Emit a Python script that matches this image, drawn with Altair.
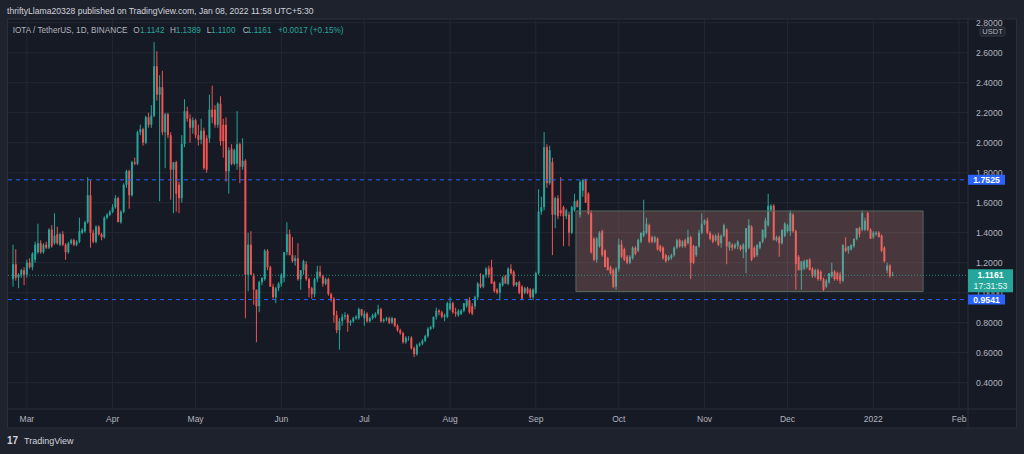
import altair as alt
import pandas as pd

# ---------------- data ----------------
# daily candles (open, high, low, close), first day 2021-02-24
seg_feb_apr = [
    (1.09, 1.32, 1.04, 1.19), (1.19, 1.29, 1.08, 1.10), (1.10, 1.13, 1.03, 1.12), (1.12, 1.16, 1.10, 1.15),
    (1.15, 1.17, 1.05, 1.12), (1.12, 1.22, 1.10, 1.20), (1.20, 1.23, 1.16, 1.17), (1.17, 1.27, 1.15, 1.26),
    (1.22, 1.34, 1.20, 1.32), (1.27, 1.46, 1.26, 1.33), (1.33, 1.35, 1.26, 1.27), (1.27, 1.33, 1.26, 1.32),
    (1.32, 1.34, 1.29, 1.30), (1.30, 1.43, 1.29, 1.42), (1.42, 1.45, 1.30, 1.31), (1.33, 1.53, 1.32, 1.38),
    (1.39, 1.44, 1.32, 1.33), (1.32, 1.40, 1.31, 1.39), (1.39, 1.41, 1.31, 1.32), (1.32, 1.33, 1.22, 1.27),
    (1.27, 1.34, 1.26, 1.33), (1.33, 1.36, 1.32, 1.35), (1.35, 1.36, 1.31, 1.32), (1.32, 1.35, 1.31, 1.34),
    (1.34, 1.50, 1.33, 1.41), (1.40, 1.43, 1.39, 1.42), (1.41, 1.48, 1.40, 1.47), (1.47, 1.77, 1.46, 1.65),
    (1.65, 1.75, 1.30, 1.40), (1.40, 1.42, 1.33, 1.34), (1.34, 1.45, 1.33, 1.44), (1.44, 1.45, 1.38, 1.39),
    (1.39, 1.40, 1.35, 1.37), (1.37, 1.51, 1.36, 1.50), (1.50, 1.53, 1.49, 1.52), (1.52, 1.55, 1.51, 1.54),
    (1.54, 1.59, 1.53, 1.57), (1.57, 1.65, 1.56, 1.63), (1.63, 1.64, 1.47, 1.47), (1.47, 1.55, 1.46, 1.54),
    (1.54, 1.73, 1.53, 1.72), (1.72, 1.82, 1.70, 1.81), (1.81, 1.82, 1.56, 1.65), (1.65, 1.88, 1.64, 1.87),
    (1.87, 1.90, 1.85, 1.86), (1.86, 2.08, 1.85, 2.07), (2.07, 2.12, 2.05, 2.09), (2.09, 2.10, 1.98, 2.00),
    (2.00, 2.18, 1.99, 2.17), (2.17, 2.20, 2.10, 2.12), (2.12, 2.25, 2.10, 2.18), (2.18, 2.67, 2.17, 2.51),
]
seg_apr_jun = [
    (2.51, 2.61, 2.28, 2.32), (2.32, 2.45, 1.61, 2.37), (2.37, 2.48, 2.05, 2.07), (2.07, 2.20, 1.83, 2.19),
    (2.19, 2.20, 2.03, 2.05), (2.05, 2.07, 1.62, 1.82), (1.82, 1.87, 1.53, 1.87), (1.87, 1.88, 1.54, 1.66),
    (1.72, 1.74, 1.53, 1.63), (1.63, 2.05, 1.60, 1.99), (1.99, 2.29, 1.97, 2.21), (2.21, 2.24, 2.14, 2.16),
    (2.16, 2.19, 2.00, 2.10), (2.10, 2.17, 2.06, 2.15), (2.15, 2.16, 2.03, 2.05), (2.05, 2.12, 1.98, 2.02),
    (2.02, 2.16, 1.99, 2.08), (2.08, 2.10, 1.82, 1.83), (2.03, 2.05, 1.80, 1.82), (2.03, 2.32, 2.00, 2.22),
    (2.22, 2.38, 2.13, 2.17), (2.22, 2.25, 2.10, 2.12), (2.12, 2.27, 2.10, 2.26), (2.26, 2.31, 1.98, 2.01),
    (2.12, 2.16, 1.90, 2.01), (2.12, 2.17, 1.74, 1.81), (1.81, 1.97, 1.66, 1.95), (1.96, 1.99, 1.85, 1.86),
    (1.86, 1.96, 1.85, 1.95), (1.86, 2.21, 1.82, 1.99), (1.99, 2.00, 1.73, 1.84), (1.84, 2.03, 1.82, 1.88),
    (1.88, 1.89, 0.83, 1.12), (1.12, 1.40, 1.01, 1.32), (1.32, 1.41, 1.12, 1.12), (1.11, 1.13, 0.92, 1.02),
    (1.02, 1.02, 0.67, 0.91), (0.91, 1.08, 0.87, 1.07), (1.07, 1.10, 1.05, 1.10), (1.09, 1.29, 1.08, 1.28),
    (1.28, 1.29, 1.15, 1.17), (1.17, 1.18, 1.04, 1.04), (1.04, 1.06, 0.96, 0.97), (0.97, 1.04, 0.93, 1.03),
    (1.03, 1.07, 1.01, 1.06), (1.06, 1.13, 1.04, 1.12), (1.10, 1.27, 1.07, 1.27), (1.27, 1.47, 1.25, 1.39),
    (1.39, 1.42, 1.25, 1.25), (1.25, 1.37, 1.20, 1.21), (1.21, 1.25, 1.18, 1.23), (1.23, 1.33, 1.08, 1.09),
    (1.09, 1.15, 1.02, 1.15),
]
seg_jun_jul = [
    (1.15, 1.22, 1.12, 1.21), (1.19, 1.21, 1.08, 1.09), (1.09, 1.10, 0.97, 1.03), (1.03, 1.04, 0.96, 0.99),
    (0.99, 1.10, 0.97, 1.09), (1.09, 1.18, 1.07, 1.14), (1.14, 1.18, 1.10, 1.11), (1.11, 1.12, 1.04, 1.06),
    (1.06, 1.10, 1.05, 1.09), (1.09, 1.10, 0.98, 0.99), (0.99, 1.00, 0.94, 0.96), (0.96, 0.97, 0.80, 0.85),
    (0.85, 0.88, 0.73, 0.75), (0.75, 0.83, 0.62, 0.81), (0.81, 0.86, 0.78, 0.84), (0.84, 0.87, 0.82, 0.85),
    (0.85, 0.86, 0.74, 0.80), (0.80, 0.82, 0.78, 0.81), (0.81, 0.84, 0.80, 0.83), (0.83, 0.85, 0.82, 0.84),
    (0.83, 0.90, 0.82, 0.89), (0.89, 0.89, 0.84, 0.85), (0.83, 0.88, 0.78, 0.86), (0.86, 0.87, 0.80, 0.81),
    (0.81, 0.84, 0.80, 0.83), (0.83, 0.86, 0.82, 0.85), (0.84, 0.87, 0.83, 0.86), (0.86, 0.92, 0.85, 0.89),
    (0.89, 0.90, 0.80, 0.81), (0.81, 0.83, 0.80, 0.82), (0.82, 0.84, 0.81, 0.83), (0.83, 0.84, 0.79, 0.80),
    (0.80, 0.84, 0.79, 0.83), (0.83, 0.83, 0.77, 0.78), (0.78, 0.79, 0.74, 0.75), (0.75, 0.76, 0.72, 0.73),
    (0.73, 0.74, 0.66, 0.67), (0.67, 0.71, 0.66, 0.70), (0.70, 0.71, 0.68, 0.70), (0.70, 0.71, 0.62, 0.63),
    (0.63, 0.64, 0.57, 0.59), (0.59, 0.66, 0.58, 0.65), (0.65, 0.67, 0.64, 0.66), (0.66, 0.69, 0.65, 0.68),
    (0.68, 0.72, 0.67, 0.71), (0.71, 0.77, 0.70, 0.76), (0.76, 0.78, 0.75, 0.77), (0.77, 0.84, 0.76, 0.84),
    (0.84, 0.90, 0.82, 0.88), (0.88, 0.89, 0.85, 0.87), (0.87, 0.88, 0.83, 0.84), (0.84, 0.86, 0.81, 0.85),
]
seg_jul_sep = [
    (0.84, 0.94, 0.83, 0.93), (0.89, 0.97, 0.88, 0.93), (0.93, 0.94, 0.86, 0.87), (0.87, 0.90, 0.84, 0.86),
    (0.85, 0.89, 0.84, 0.88), (0.86, 0.89, 0.85, 0.88), (0.88, 0.93, 0.87, 0.93), (0.91, 0.96, 0.90, 0.95),
    (0.95, 0.97, 0.86, 0.87), (0.91, 0.93, 0.85, 0.86), (0.91, 0.98, 0.89, 0.97), (0.97, 1.07, 0.95, 1.06),
    (1.06, 1.13, 1.03, 1.04), (1.04, 1.12, 1.03, 1.12), (1.12, 1.17, 1.10, 1.16), (1.16, 1.18, 1.10, 1.12),
    (1.17, 1.22, 1.06, 1.06), (1.07, 1.08, 1.00, 1.01), (1.02, 1.03, 0.99, 1.00), (1.00, 1.07, 0.95, 1.06),
    (1.05, 1.11, 1.04, 1.10), (1.11, 1.12, 1.06, 1.06), (1.06, 1.17, 1.05, 1.16), (1.16, 1.19, 1.12, 1.13),
    (1.14, 1.15, 1.04, 1.05), (1.05, 1.07, 1.04, 1.07), (1.07, 1.08, 0.99, 1.00), (1.04, 1.05, 0.95, 0.96),
    (1.00, 1.04, 0.99, 1.03), (1.03, 1.04, 0.99, 1.00), (1.02, 1.03, 0.96, 0.97), (0.97, 1.03, 0.95, 1.02),
    (1.00, 1.14, 0.99, 1.13), (1.13, 1.69, 1.12, 1.54), (1.54, 1.64, 1.52, 1.57), (1.57, 2.07, 1.55, 1.97),
    (1.97, 1.99, 1.70, 1.73), (1.73, 1.98, 1.72, 1.95), (1.87, 1.90, 1.25, 1.52), (1.52, 1.64, 1.43, 1.63),
    (1.63, 1.65, 1.49, 1.51), (1.55, 1.77, 1.51, 1.53), (1.57, 1.58, 1.31, 1.51), (1.51, 1.56, 1.49, 1.55),
    (1.52, 1.54, 1.31, 1.40), (1.40, 1.58, 1.39, 1.57), (1.55, 1.66, 1.54, 1.61), (1.61, 1.62, 1.57, 1.57),
    (1.52, 1.75, 1.50, 1.74), (1.68, 1.76, 1.64, 1.75), (1.75, 1.76, 1.60, 1.60), (1.66, 1.67, 1.52, 1.53),
    (1.53, 1.55, 1.26, 1.27),
]
seg_sep_nov = [
    (1.36, 1.37, 1.21, 1.22), (1.22, 1.37, 1.20, 1.36), (1.31, 1.41, 1.30, 1.40), (1.41, 1.42, 1.24, 1.25),
    (1.28, 1.29, 1.17, 1.17), (1.23, 1.24, 1.15, 1.15), (1.17, 1.18, 1.12, 1.13), (1.15, 1.16, 1.03, 1.04),
    (1.04, 1.17, 1.02, 1.16), (1.16, 1.36, 1.14, 1.32), (1.32, 1.35, 1.23, 1.24), (1.29, 1.30, 1.21, 1.22),
    (1.24, 1.25, 1.19, 1.20), (1.20, 1.25, 1.19, 1.24), (1.23, 1.31, 1.22, 1.30), (1.30, 1.31, 1.25, 1.26),
    (1.28, 1.36, 1.27, 1.35), (1.34, 1.40, 1.33, 1.40), (1.38, 1.62, 1.37, 1.41), (1.40, 1.50, 1.39, 1.46),
    (1.45, 1.46, 1.33, 1.34), (1.37, 1.38, 1.33, 1.34), (1.34, 1.38, 1.33, 1.37), (1.36, 1.37, 1.28, 1.29),
    (1.31, 1.32, 1.27, 1.28), (1.30, 1.31, 1.22, 1.23), (1.25, 1.26, 1.20, 1.21), (1.22, 1.25, 1.21, 1.24),
    (1.23, 1.26, 1.22, 1.25), (1.25, 1.31, 1.24, 1.30), (1.30, 1.36, 1.29, 1.35), (1.35, 1.36, 1.30, 1.31),
    (1.31, 1.35, 1.30, 1.34), (1.35, 1.36, 1.30, 1.31), (1.33, 1.42, 1.32, 1.37), (1.37, 1.38, 1.09, 1.20),
    (1.31, 1.32, 1.19, 1.20), (1.25, 1.31, 1.24, 1.31), (1.31, 1.42, 1.30, 1.40), (1.40, 1.53, 1.39, 1.46),
    (1.46, 1.49, 1.45, 1.48), (1.48, 1.50, 1.39, 1.40), (1.40, 1.41, 1.35, 1.36), (1.38, 1.39, 1.33, 1.34),
    (1.35, 1.39, 1.34, 1.38), (1.38, 1.40, 1.31, 1.32), (1.33, 1.39, 1.30, 1.38), (1.38, 1.46, 1.37, 1.45),
    (1.42, 1.43, 1.19, 1.31), (1.30, 1.34, 1.28, 1.34), (1.32, 1.33, 1.28, 1.30), (1.30, 1.33, 1.29, 1.32),
    (1.31, 1.35, 1.29, 1.34),
]
seg_nov_jan = [
    (1.31, 1.32, 1.28, 1.29), (1.29, 1.33, 1.23, 1.32), (1.27, 1.43, 1.13, 1.43), (1.30, 1.49, 1.29, 1.45),
    (1.44, 1.45, 1.21, 1.22), (1.30, 1.31, 1.23, 1.24), (1.25, 1.32, 1.24, 1.32), (1.30, 1.34, 1.29, 1.34),
    (1.34, 1.42, 1.33, 1.42), (1.37, 1.50, 1.36, 1.48), (1.45, 1.66, 1.44, 1.58), (1.55, 1.59, 1.54, 1.58),
    (1.58, 1.59, 1.35, 1.35), (1.35, 1.38, 1.34, 1.37), (1.37, 1.38, 1.24, 1.33), (1.33, 1.42, 1.32, 1.42),
    (1.38, 1.47, 1.37, 1.46), (1.41, 1.46, 1.40, 1.45), (1.41, 1.55, 1.38, 1.53), (1.52, 1.53, 1.40, 1.41),
    (1.41, 1.42, 1.02, 1.19), (1.24, 1.25, 1.15, 1.15), (1.15, 1.21, 1.02, 1.21), (1.16, 1.22, 1.15, 1.21),
    (1.17, 1.22, 1.16, 1.22), (1.22, 1.23, 1.15, 1.15), (1.16, 1.17, 1.10, 1.11), (1.11, 1.16, 1.10, 1.15),
    (1.15, 1.16, 1.08, 1.09), (1.14, 1.15, 1.08, 1.09), (1.09, 1.10, 1.01, 1.02), (1.04, 1.09, 1.03, 1.08),
    (1.07, 1.13, 1.06, 1.13), (1.11, 1.20, 1.10, 1.14), (1.14, 1.15, 1.08, 1.09), (1.13, 1.14, 1.08, 1.09),
    (1.12, 1.14, 1.06, 1.08), (1.08, 1.32, 1.07, 1.32), (1.30, 1.37, 1.27, 1.28), (1.28, 1.31, 1.26, 1.31),
    (1.29, 1.32, 1.28, 1.32), (1.31, 1.36, 1.30, 1.36), (1.36, 1.43, 1.35, 1.43), (1.43, 1.44, 1.37, 1.39),
    (1.42, 1.55, 1.41, 1.53), (1.42, 1.50, 1.41, 1.48), (1.53, 1.54, 1.41, 1.42), (1.42, 1.43, 1.36, 1.36),
    (1.37, 1.41, 1.36, 1.40), (1.39, 1.41, 1.38, 1.40), (1.40, 1.41, 1.37, 1.37), (1.38, 1.39, 1.27, 1.28),
    (1.30, 1.31, 1.20, 1.21), (1.15, 1.20, 1.13, 1.18), (1.18, 1.19, 1.10, 1.11), (1.1142, 1.1389, 1.11, 1.1161),
]
first_day = "2021-02-24"

hline_prices = [1.7525, 0.9541]
last_price = 1.1161
last_timer = "17:31:53"
range_box = {"t1": "2021-09-15T12:00", "t2": "2022-01-19T00:00", "p1": 1.545, "p2": 1.008}

y_ticks = [0.4, 0.6, 0.8, 1.0, 1.2, 1.4, 1.6, 1.8, 2.0, 2.2, 2.4, 2.6, 2.8]
month_days = ["2021-03-01", "2021-04-01", "2021-05-01", "2021-06-01", "2021-07-01", "2021-08-01",
              "2021-09-01", "2021-10-01", "2021-11-01", "2021-12-01", "2022-01-01", "2022-02-01"]
month_labels = ["Mar", "Apr", "May", "Jun", "Jul", "Aug", "Sep", "Oct", "Nov", "Dec", "2022", "Feb"]

header_text = "thriftyLlama20328 published on TradingView.com, Jan 08, 2022 11:58 UTC+5:30"
legend_parts = [("IOTA / TetherUS, 1D, BINANCE", "gray", 4.7), ("O", "gray", 125.3), ("1.1142", "up", 132),
                ("H", "gray", 162), ("1.1389", "up", 167.7), ("L", "gray", 198.7), ("1.1100", "up", 203),
                ("C", "gray", 234.7), ("1.1161", "up", 239), ("+0.0017 (+0.15%)", "up", 270)]

# ---------------- style ----------------
FONT = "Liberation Sans"
FRAME = "#1e222d"
CHART_BG = "#161a25"
GRID = "#232733"
BORDER = "#2a2e39"
TEXT = "#b2b5be"
HEAD = "#d1d4dc"
UP = "#26a69a"
DOWN = "#ef5350"
BLUE = "#2962ff"
W, H = 960, 390


def ms(s):
    return int(pd.Timestamp(s, tz="UTC").value // 10**6)


candles = seg_feb_apr + seg_apr_jun + seg_jun_jul + seg_jul_sep + seg_sep_nov + seg_nov_jan
df = pd.DataFrame(candles, columns=["open", "high", "low", "close"])
t0 = pd.Timestamp(first_day, tz="UTC")
df["t"] = [int((t0 + pd.Timedelta(days=i)).value // 10**6) for i in range(len(df))]
df["dir"] = ["up" if c >= o else "down" for o, c in zip(df["open"], df["close"])]

mar1 = pd.Timestamp("2021-03-01", tz="UTC")
x_dom = [int((mar1 - pd.Timedelta(days=5.01)).value // 10**6),
         int((mar1 + pd.Timedelta(days=338.43)).value // 10**6)]
xs = alt.Scale(type="utc", domain=x_dom)
ys = alt.Scale(domain=[0.2247, 2.8247], nice=False, zero=False)

one = pd.DataFrame({"a": [0]})
months_df = pd.DataFrame({"t": [ms(d) for d in month_days], "label": month_labels})
ticks_df = pd.DataFrame({"v": y_ticks})

layers = []
# chart background
layers.append(alt.Chart(one).mark_rect(fill=CHART_BG).encode(
    x=alt.value(0), x2=alt.value(1008), y=alt.value(0), y2=alt.value(409)))
# grid
layers.append(alt.Chart(ticks_df).mark_rule(color=GRID, strokeWidth=1).encode(
    y=alt.Y("v:Q", scale=ys, axis=None), x=alt.value(0), x2=alt.value(W)))
layers.append(alt.Chart(months_df).mark_rule(color=GRID, strokeWidth=1).encode(
    x=alt.X("t:T", scale=xs, axis=None), y=alt.value(0), y2=alt.value(H)))

# candles
color = alt.Color("dir:N", scale=alt.Scale(domain=["up", "down"], range=[UP, DOWN]), legend=None)
base = alt.Chart(df)
layers.append(base.mark_rule(strokeWidth=1).encode(
    x=alt.X("t:T", scale=xs, axis=None),
    y=alt.Y("low:Q", scale=ys, axis=None), y2="high:Q", color=color))
layers.append(base.mark_bar(size=2).encode(
    x=alt.X("t:T", scale=xs, axis=None),
    y=alt.Y("open:Q", scale=ys, axis=None), y2="close:Q", color=color))

# range box
box_df = pd.DataFrame({"t1": [ms(range_box["t1"])], "t2": [ms(range_box["t2"])],
                       "p1": [range_box["p1"]], "p2": [range_box["p2"]]})
layers.append(alt.Chart(box_df).mark_rect(fill="#de9289", fillOpacity=0.25, stroke="#56675a",
                                          strokeWidth=1).encode(
    x=alt.X("t1:T", scale=xs, axis=None), x2="t2:T",
    y=alt.Y("p1:Q", scale=ys, axis=None), y2="p2:Q"))

# horizontal lines
hl_df = pd.DataFrame({"p": hline_prices})
layers.append(alt.Chart(hl_df).mark_rule(color=BLUE, strokeDash=[4, 4], strokeWidth=1).encode(
    y=alt.Y("p:Q", scale=ys, axis=None), x=alt.value(0), x2=alt.value(W)))
last_df = pd.DataFrame({"p": [last_price], "timer": [last_timer]})
layers.append(alt.Chart(last_df).mark_rule(color=UP, strokeDash=[1, 2], strokeWidth=1, opacity=0.8).encode(
    y=alt.Y("p:Q", scale=ys, axis=None), x=alt.value(0), x2=alt.value(W)))

# month labels
layers.append(alt.Chart(months_df).mark_text(color=TEXT, fontSize=8.5, font=FONT, align="center",
                                             baseline="middle").encode(
    x=alt.X("t:T", scale=xs, axis=None), y=alt.value(400), text="label:N"))

# right price-axis panel
layers.append(alt.Chart(one).mark_rect(fill=CHART_BG).encode(
    x=alt.value(W), x2=alt.value(1008), y=alt.value(0), y2=alt.value(409)))
layers.append(alt.Chart(one).mark_rule(color=BORDER, strokeWidth=1).encode(
    x=alt.value(W), y=alt.value(0), y2=alt.value(409)))
layers.append(alt.Chart(one).mark_rule(color=BORDER, strokeWidth=1).encode(
    y=alt.value(H), x=alt.value(0), x2=alt.value(1008)))

# price labels
layers.append(alt.Chart(ticks_df).mark_text(color=TEXT, fontSize=8.7, font=FONT, align="left",
                                            baseline="middle").encode(
    y=alt.Y("v:Q", scale=ys, axis=None), x=alt.value(W + 8), text=alt.Text("v:Q", format=".4f")))

# price tags
layers.append(alt.Chart(hl_df).mark_tick(color=BLUE, thickness=10, size=37, opacity=1).encode(
    y=alt.Y("p:Q", scale=ys, axis=None), x=alt.value(W + 18.5)))
layers.append(alt.Chart(hl_df).mark_text(color="#ffffff", fontSize=8.7, font=FONT, fontWeight="bold",
                                         align="center", baseline="middle").encode(
    y=alt.Y("p:Q", scale=ys, axis=None), x=alt.value(W + 18.5), text=alt.Text("p:Q", format=".4f")))
layers.append(alt.Chart(last_df).mark_tick(color=UP, thickness=23, size=45, opacity=1, yOffset=5.5).encode(
    y=alt.Y("p:Q", scale=ys, axis=None), x=alt.value(W + 22.5)))
layers.append(alt.Chart(last_df).mark_text(color="#ffffff", fontSize=8.7, font=FONT, fontWeight="bold",
                                           align="center", baseline="middle").encode(
    y=alt.Y("p:Q", scale=ys, axis=None), x=alt.value(W + 22.5), text=alt.Text("p:Q", format=".4f")))
layers.append(alt.Chart(last_df).mark_text(color="#e8f5f3", fontSize=8.7, font=FONT,
                                           align="center", baseline="middle", dy=11).encode(
    y=alt.Y("p:Q", scale=ys, axis=None), x=alt.value(W + 22.5), text="timer:N"))

# header strip (covers the top of the chart frame)
layers.append(alt.Chart(one).mark_rect(fill=FRAME).encode(
    x=alt.value(-8), x2=alt.value(1016), y=alt.value(-19), y2=alt.value(0)))
# USDT tag
layers.append(alt.Chart(one).mark_rect(fill=FRAME, stroke="#363a45", strokeWidth=1, cornerRadius=2).encode(
    x=alt.value(972), x2=alt.value(997), y=alt.value(8), y2=alt.value(17)))
layers.append(alt.Chart(one).mark_text(text="USDT", color=TEXT, fontSize=7.5, font=FONT, align="center",
                                       baseline="middle").encode(x=alt.value(984.5), y=alt.value(12.5)))

# frame border
layers.append(alt.Chart(one).mark_rect(fill="transparent", stroke=BORDER, strokeWidth=1).encode(
    x=alt.value(-0.5), x2=alt.value(1008.5), y=alt.value(0), y2=alt.value(409)))

# header / legend texts
layers.append(alt.Chart(one).mark_text(text=header_text, color=HEAD, fontSize=8.6, font=FONT,
                                       align="left", baseline="middle").encode(
    x=alt.value(-1), y=alt.value(-8.5)))
for txt, kind, px in legend_parts:
    layers.append(alt.Chart(one).mark_text(text=txt, color=(UP if kind == "up" else TEXT), fontSize=8.2,
                                           font=FONT, align="left", baseline="middle").encode(
        x=alt.value(px), y=alt.value(11.5)))

# footer logo
layers.append(alt.Chart(one).mark_text(text="17", color=HEAD, fontSize=10, font=FONT, fontWeight="bold",
                                       align="left", baseline="middle").encode(
    x=alt.value(-1), y=alt.value(422)))
layers.append(alt.Chart(one).mark_text(text="TradingView", color=HEAD, fontSize=9, font=FONT,
                                       align="left", baseline="middle").encode(
    x=alt.value(16), y=alt.value(422)))

chart = alt.layer(*layers).properties(
    width=W, height=H,
    padding={"left": 8, "top": 19, "right": 56, "bottom": 45},
    autosize=alt.AutoSizeParams(type="none"),
    background=FRAME,
).configure_view(strokeWidth=0)

chart.save("out.html", embed_options={"renderer": "svg", "actions": False})
